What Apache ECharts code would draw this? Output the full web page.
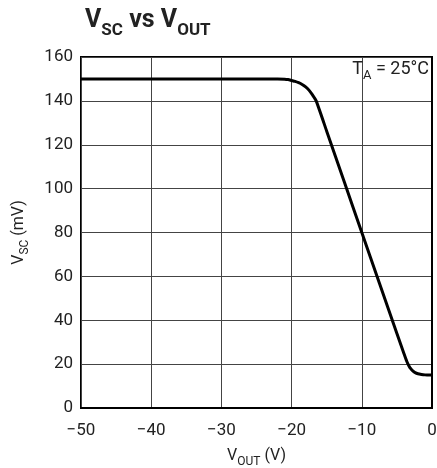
<!DOCTYPE html>
<html>
<head>
<meta charset="utf-8">
<script src="https://cdn.jsdelivr.net/npm/echarts@6/dist/echarts.min.js"></script>
<style>html,body{margin:0;padding:0;background:#fff}#c{width:437px;height:468px}</style>
</head>
<body>
<div id="c"></div>
<script>
const vout = [-50, -40, -30, -25, -22, -21, -20.5, -20, -19.5, -19, -18.5, -18, -17.5, -17, -16.5, -15, -12.5, -10, -7.5, -5, -4.5, -4, -3.6, -3.3, -3, -2.7, -2.4, -2, -1.5, -1, -0.5, 0];
const vsc = [150, 150, 150, 150, 150, 149.9, 149.7, 149.3, 148.9, 148.3, 147.5, 146.4, 144.8, 142.6, 140, 126.2, 103.1, 80, 57, 34, 29.4, 24.8, 21.3, 19.3, 17.8, 16.8, 16.1, 15.6, 15.3, 15.1, 15.0, 15.0];
const xTicks = [-50, -40, -30, -20, -10, 0];
const yTicks = [0, 20, 40, 60, 80, 100, 120, 140, 160];

const FONT = '"Roboto", "Liberation Sans", sans-serif';
const sub = (fs, sfs, lh, off) => ({
  n: {fontFamily: FONT, fontSize: fs, color: '#222', verticalAlign: 'bottom', lineHeight: lh, padding: [0, 0, off, 0]},
  s: {fontFamily: FONT, fontSize: sfs, color: '#222', verticalAlign: 'bottom', lineHeight: lh}
});
const chart = echarts.init(document.getElementById('c'), null, {renderer: 'canvas'});
chart.setOption({
  animation: false,
  backgroundColor: '#fff',
  textStyle: {fontFamily: FONT},
  title: {
    text: '{b|V}{s|SC}{b| vs V}{s|OUT}',
    left: 80, top: 4,
    textStyle: {
      rich: {
        b: {fontFamily: FONT, fontSize: 25, fontWeight: 'bold', color: '#222', verticalAlign: 'bottom', lineHeight: 30, padding: [0, 0, 6, 0]},
        s: {fontFamily: FONT, fontSize: 17, fontWeight: 'bold', color: '#222', verticalAlign: 'bottom', lineHeight: 30}
      }
    }
  },
  grid: {left: 81, right: 5, top: 57, bottom: 60, containLabel: false, outerBoundsMode: 'none',
    show: true, borderColor: '#000', borderWidth: 2, backgroundColor: 'transparent'},
  xAxis: {
    type: 'value', min: -50, max: 0, interval: 10,
    axisLine: {show: true, lineStyle: {color: '#000', width: 2}},
    axisTick: {show: false},
    splitLine: {show: true, lineStyle: {color: '#444', width: 1}},
    axisLabel: {color: '#222', fontSize: 17, margin: 14, fontFamily: FONT,
      formatter: v => (xTicks.includes(v) ? String(v).replace('-', '\u2212') : '')},
    name: '{n|V}{s|OUT}{n| (V)}',
    nameLocation: 'middle', nameGap: 40,
    nameTextStyle: {rich: sub(16, 12, 20, 4)}
  },
  yAxis: {
    type: 'value', min: 0, max: 160, interval: 20,
    axisLine: {show: true, lineStyle: {color: '#000', width: 2}},
    axisTick: {show: false},
    splitLine: {show: true, lineStyle: {color: '#444', width: 1}},
    axisLabel: {color: '#222', fontSize: 17, margin: 8, fontFamily: FONT,
      formatter: v => (yTicks.includes(v) ? String(v) : '')},
    name: '{n|V}{s|SC}{n| (mV)}',
    nameLocation: 'middle', nameGap: 50, nameRotate: 90,
    nameTextStyle: {rich: sub(16, 12, 20, 4)}
  },
  graphic: [{
    type: 'text', right: 8, top: 60, z: 100,
    style: {
      text: '{n|T}{s|A}{n| = 25°C}',
      rich: {
        n: {fontFamily: FONT, fontSize: 18, fill: '#222', verticalAlign: 'bottom', lineHeight: 20, padding: [0, 0, 4, 0]},
        s: {fontFamily: FONT, fontSize: 13, fill: '#222', verticalAlign: 'bottom', lineHeight: 20}
      }
    }
  }],
  series: [{
    type: 'line',
    data: vout.map((x, i) => [x, vsc[i]]),
    showSymbol: false,
    smooth: 0.2,
    lineStyle: {color: '#000', width: 3},
    z: 5
  }]
});
</script>
</body>
</html>
